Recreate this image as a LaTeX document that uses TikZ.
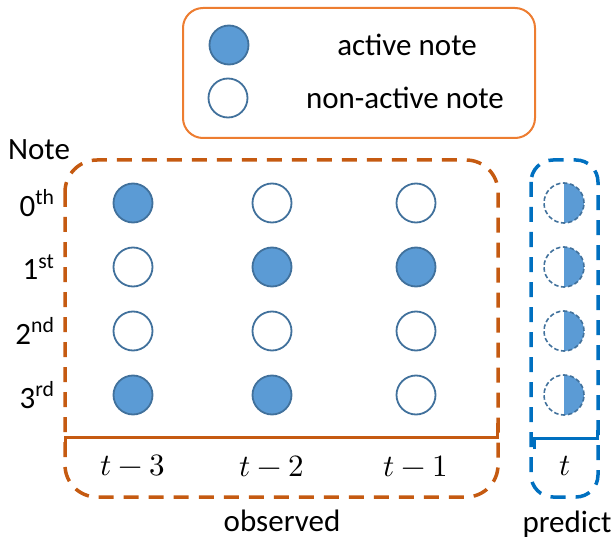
\documentclass[tikz,border=0pt]{standalone}
\usepackage{fontspec}
\usepackage{unicode-math}
\setmainfont{Carlito}
\setmathfont{Latin Modern Math}

\definecolor{actblue}{HTML}{5B9BD5}
\definecolor{rimblue}{HTML}{41719C}
\definecolor{legorange}{HTML}{ED7D31}
\definecolor{obsorange}{HTML}{C55A11}
\definecolor{predblue}{HTML}{0070C0}

\begin{document}
\begin{tikzpicture}[x=1pt,y=-1pt, every node/.style={font=\fontsize{31}{36}\selectfont},
    onnote/.style={circle,draw=rimblue,fill=actblue,line width=1.8pt,minimum size=39pt,inner sep=0pt},
    offnote/.style={circle,draw=rimblue,fill=white,line width=1.8pt,minimum size=39pt,inner sep=0pt},
    halfnote/.style={circle,draw=rimblue,dash pattern=on 4.5pt off 2.5pt,line width=1.6pt,minimum size=40pt,inner sep=0pt,
        path picture={\fill[actblue] (path picture bounding box.north) rectangle (path picture bounding box.south east);}}]
    \useasboundingbox (0,0) rectangle (613,540);

    % legend
    \draw[legorange,line width=2pt,rounded corners=20pt] (183,8) rectangle (535,138);
    \node[onnote] (lon) at (229,45) {};
    \node[offnote] (loff) at (228,98) {};
    \node (lont) at (407,45) {active note};
    \node (lofft) at (405,98) {non-active note};

    % row labels
    \node (note) at (39,150) {Note};
    \node[anchor=east] (r0) at (58,203) {0\textsuperscript{th}};
    \node[anchor=east] (r1) at (58,267) {1\textsuperscript{st}};
    \node[anchor=east] (r2) at (58,331) {2\textsuperscript{nd}};
    \node[anchor=east] (r3) at (58,395) {3\textsuperscript{rd}};

    % observed frames
    \draw[obsorange,line width=3.5pt,dash pattern=on 15pt off 10pt,rounded corners=32pt] (65,160) rectangle (498,497);
    \node[onnote]  (a0) at (133,203) {};
    \node[offnote] (a1) at (133,267) {};
    \node[offnote] (a2) at (133,331) {};
    \node[onnote]  (a3) at (133,395) {};
    \node[offnote] (b0) at (272,203) {};
    \node[onnote]  (b1) at (272,267) {};
    \node[offnote] (b2) at (272,331) {};
    \node[onnote]  (b3) at (272,395) {};
    \node[offnote] (c0) at (416,203) {};
    \node[onnote]  (c1) at (416,267) {};
    \node[offnote] (c2) at (416,331) {};
    \node[offnote] (c3) at (416,395) {};

    \coordinate (obsl) at (65,452);
    \coordinate (obsr) at (497,423);
    \draw[obsorange,line width=3pt] (obsl) |- (obsr |- 0,437) -- (obsr);
    \node (ta) at (133,466) {$t-3$};
    \node (tb) at (272,466) {$t-2$};
    \node (tc) at (416,466) {$t-1$};
    \node (obs) at (282,521) {observed};

    % predicted frame
    \draw[predblue,line width=3.5pt,dash pattern=on 15pt off 10pt,rounded corners=22pt] (531,160) rectangle (598,497);
    \node[halfnote] (p0) at (564,203) {};
    \node[halfnote] (p1) at (564,267) {};
    \node[halfnote] (p2) at (564,331) {};
    \node[halfnote] (p3) at (564,395) {};

    \coordinate (predl) at (534,449);
    \coordinate (predr) at (597,430);
    \draw[predblue,line width=3pt] (predl) |- (predr |- 0,438) -- (predr);
    \node (td) at (565,466) {$t$};
    \node (pred) at (567,524) {predict};
\end{tikzpicture}
\end{document}
